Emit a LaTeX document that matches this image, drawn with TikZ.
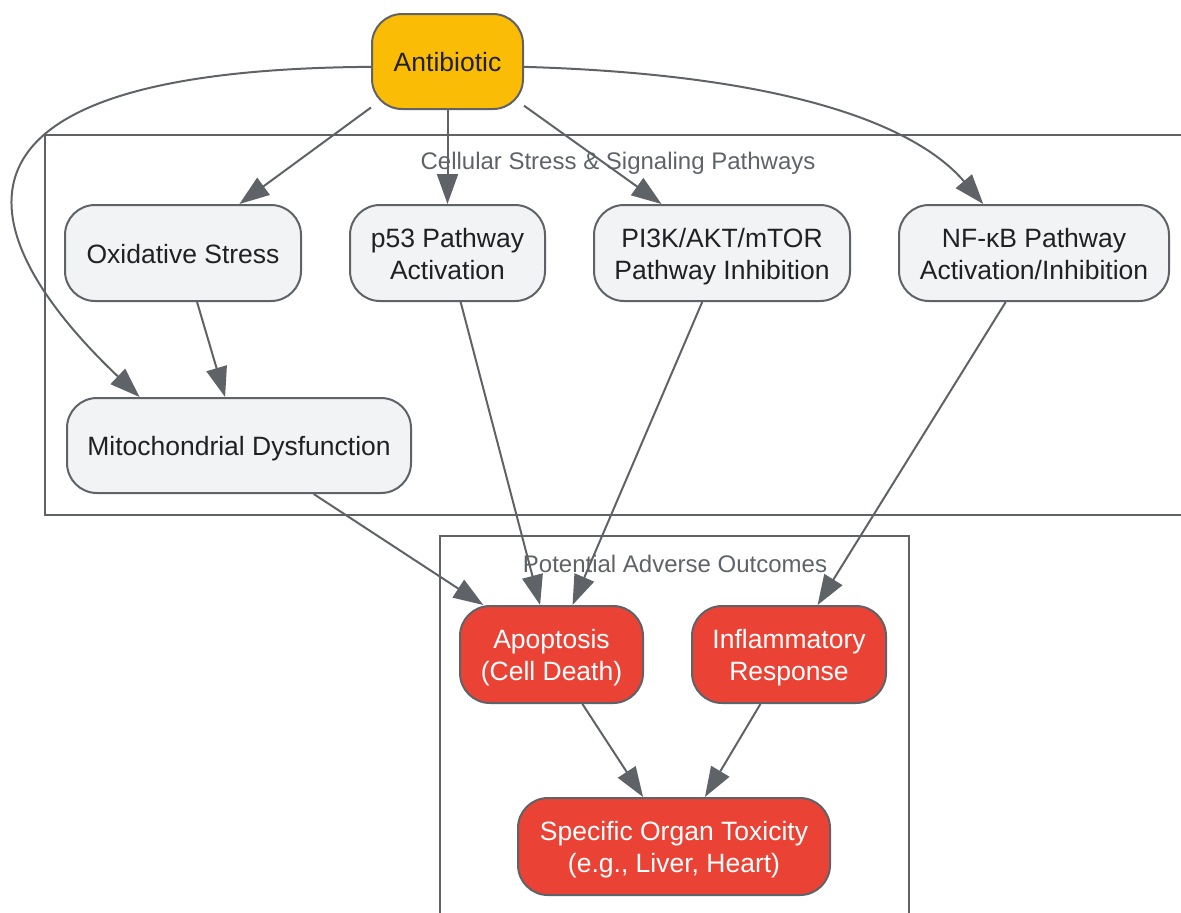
\documentclass[tikz,border=0pt]{standalone}
\usepackage{fontspec}
\setmainfont{Liberation Sans}
\usetikzlibrary{arrows.meta}
\definecolor{edgegray}{HTML}{5F6368}
\definecolor{boxgray}{HTML}{F1F3F4}
\definecolor{drugyellow}{HTML}{FBBC05}
\definecolor{riskred}{HTML}{EA4335}
\definecolor{txtdark}{HTML}{202124}
\newcommand{\nodestrut}{\rule[-3pt]{0pt}{16pt}}
\begin{document}
\begin{tikzpicture}[x=0.5pt,y=-0.5pt,
    box/.style={draw=edgegray,line width=1pt,rounded corners=15pt,align=center,
        minimum height=48pt,inner sep=0pt,font=\fontsize{13.25}{16}\selectfont,text=txtdark,
        execute at begin node=\nodestrut,execute at end node=\nodestrut},
    pathbox/.style={box,fill=boxgray},
    drugbox/.style={box,fill=drugyellow},
    riskbox/.style={box,fill=riskred,text=white},
    cluster/.style={draw=edgegray,line width=1pt},
    clusterlabel/.style={text=edgegray,font=\fontsize{12}{14}\selectfont},
    link/.style={draw=edgegray,line width=1pt,-{Triangle[length=15pt,width=10.5pt]}}]

    \useasboundingbox (0,0) rectangle (1181,912);

    % Clusters
    \draw[cluster] (45,135) rectangle (1191,515);
    \node[clusterlabel] (celllabel) at (618,163) {Cellular Stress \& Signaling Pathways};
    \draw[cluster] (440,536) rectangle (909,930);
    \node[clusterlabel] (outlabel) at (675,564) {Potential Adverse Outcomes};

    % Nodes
    \node[drugbox,minimum width=75.5pt,minimum height=47.5pt] (ab) at (447.5,61.5) {Antibiotic};
    \node[pathbox,minimum width=118pt] (ox) at (183,253) {Oxidative Stress};
    \node[pathbox,minimum width=97.5pt] (p53) at (447.5,253) {\nodestrut p53 Pathway\\Activation};
    \node[pathbox,minimum width=128pt] (pi3k) at (722,253) {\nodestrut PI3K/AKT/mTOR\\Pathway Inhibition};
    \node[pathbox,minimum width=135pt] (nf) at (1034,253) {\nodestrut NF-κB Pathway\\Activation/Inhibition};
    \node[pathbox,minimum width=172pt,minimum height=47.5pt] (mito) at (239,445.5) {Mitochondrial Dysfunction};
    \node[riskbox,minimum width=91.5pt,minimum height=48.5pt] (apo) at (551.5,654.5) {\nodestrut Apoptosis\\(Cell Death)};
    \node[riskbox,minimum width=97pt,minimum height=48.5pt] (infl) at (789,654.5) {\nodestrut Inflammatory\\Response};
    \node[riskbox,minimum width=156pt,minimum height=48.5pt] (org) at (674,846.5) {\nodestrut Specific Organ Toxicity\\(e.g., Liver, Heart)};

    % Edges
    \draw[link] (ab.211) -- (ox.41);
    \draw[link] (ab.south) -- (p53.north);
    \draw[link] (ab.-30) -- (pi3k.141);
    \draw[link] (ab.-4) .. controls +(277,8) and +(-63,-74) .. (nf.136);
    \draw[link] (ab.184) .. controls +(-470,3) and +(-160,-152) .. (mito.154);
    \draw[link] (ox.-74) -- (mito.106);
    \draw[link] (mito.-33) -- (apo.144);
    \draw[link] (p53.-75) -- (apo.103);
    \draw[link] (pi3k.-112) -- (apo.67);
    \draw[link] (nf.-120) -- (infl.60);
    \draw[link] (apo.-58) -- (org.122);
    \draw[link] (infl.-120) -- (org.58);
\end{tikzpicture}
\end{document}
